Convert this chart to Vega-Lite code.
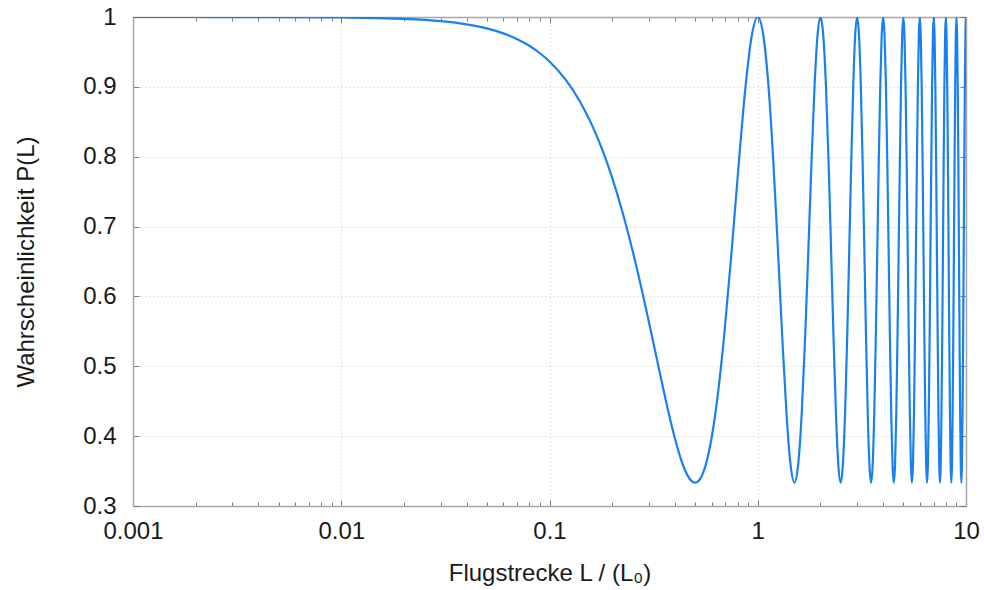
{
  "$schema": "https://vega.github.io/schema/vega-lite/v6.json",
  "width": 833,
  "height": 489,
  "autosize": {"type": "none"},
  "padding": {"left": 133, "top": 17, "right": 18, "bottom": 84},
  "background": "white",
  "config": {
    "view": {"stroke": null},
    "font": "Liberation Sans",
    "axis": {
      "domainColor": "#a6a6a6",
      "domainWidth": 1.5,
      "tickColor": "#808080",
      "tickWidth": 1,
      "labelFlush": false,
      "labelFont": "Liberation Sans",
      "labelFontSize": 24,
      "labelColor": "#1a1a1a",
      "titleFont": "Liberation Sans",
      "titleFontSize": 24,
      "titleFontWeight": "normal",
      "titleColor": "#1a1a1a",
      "gridColor": "#cccccc",
      "gridDash": [1, 3],
      "gridWidth": 1
    }
  },
  "data": {
    "values": [
      {"L": 0.001, "P": 0.99999},
      {"L": 0.002, "P": 0.99997},
      {"L": 0.005, "P": 0.99984},
      {"L": 0.01, "P": 0.99934},
      {"L": 0.015, "P": 0.99852},
      {"L": 0.02, "P": 0.99737},
      {"L": 0.03, "P": 0.9941},
      {"L": 0.04, "P": 0.98953},
      {"L": 0.05, "P": 0.98369},
      {"L": 0.06, "P": 0.97659},
      {"L": 0.07, "P": 0.96828},
      {"L": 0.08, "P": 0.95877},
      {"L": 0.09, "P": 0.94811},
      {"L": 0.1, "P": 0.93634},
      {"L": 0.12, "P": 0.90966},
      {"L": 0.14, "P": 0.87914},
      {"L": 0.16, "P": 0.84528},
      {"L": 0.18, "P": 0.80859},
      {"L": 0.2, "P": 0.76967},
      {"L": 0.22, "P": 0.72913},
      {"L": 0.25, "P": 0.66667},
      {"L": 0.28, "P": 0.60421},
      {"L": 0.3, "P": 0.56366},
      {"L": 0.33, "P": 0.50608},
      {"L": 0.36, "P": 0.45419},
      {"L": 0.4, "P": 0.39699},
      {"L": 0.43, "P": 0.36506},
      {"L": 0.46, "P": 0.34381},
      {"L": 0.48, "P": 0.33596},
      {"L": 0.5, "P": 0.33333},
      {"L": 0.53, "P": 0.33924},
      {"L": 0.5625, "P": 0.35871},
      {"L": 0.625, "P": 0.43097},
      {"L": 0.6875, "P": 0.53911},
      {"L": 0.75, "P": 0.66667},
      {"L": 0.8125, "P": 0.79423},
      {"L": 0.875, "P": 0.90237},
      {"L": 0.9375, "P": 0.97463},
      {"L": 1, "P": 1},
      {"L": 1.0625, "P": 0.97463},
      {"L": 1.125, "P": 0.90237},
      {"L": 1.1875, "P": 0.79423},
      {"L": 1.25, "P": 0.66667},
      {"L": 1.3125, "P": 0.53911},
      {"L": 1.375, "P": 0.43097},
      {"L": 1.4375, "P": 0.35871},
      {"L": 1.5, "P": 0.33333},
      {"L": 1.5625, "P": 0.35871},
      {"L": 1.625, "P": 0.43097},
      {"L": 1.6875, "P": 0.53911},
      {"L": 1.75, "P": 0.66667},
      {"L": 1.8125, "P": 0.79423},
      {"L": 1.875, "P": 0.90237},
      {"L": 1.9375, "P": 0.97463},
      {"L": 2, "P": 1},
      {"L": 2.0625, "P": 0.97463},
      {"L": 2.125, "P": 0.90237},
      {"L": 2.1875, "P": 0.79423},
      {"L": 2.25, "P": 0.66667},
      {"L": 2.3125, "P": 0.53911},
      {"L": 2.375, "P": 0.43097},
      {"L": 2.4375, "P": 0.35871},
      {"L": 2.5, "P": 0.33333},
      {"L": 2.5625, "P": 0.35871},
      {"L": 2.625, "P": 0.43097},
      {"L": 2.6875, "P": 0.53911},
      {"L": 2.75, "P": 0.66667},
      {"L": 2.8125, "P": 0.79423},
      {"L": 2.875, "P": 0.90237},
      {"L": 2.9375, "P": 0.97463},
      {"L": 3, "P": 1},
      {"L": 3.0625, "P": 0.97463},
      {"L": 3.125, "P": 0.90237},
      {"L": 3.1875, "P": 0.79423},
      {"L": 3.25, "P": 0.66667},
      {"L": 3.3125, "P": 0.53911},
      {"L": 3.375, "P": 0.43097},
      {"L": 3.4375, "P": 0.35871},
      {"L": 3.5, "P": 0.33333},
      {"L": 3.5625, "P": 0.35871},
      {"L": 3.625, "P": 0.43097},
      {"L": 3.6875, "P": 0.53911},
      {"L": 3.75, "P": 0.66667},
      {"L": 3.8125, "P": 0.79423},
      {"L": 3.875, "P": 0.90237},
      {"L": 3.9375, "P": 0.97463},
      {"L": 4, "P": 1},
      {"L": 4.0625, "P": 0.97463},
      {"L": 4.125, "P": 0.90237},
      {"L": 4.1875, "P": 0.79423},
      {"L": 4.25, "P": 0.66667},
      {"L": 4.3125, "P": 0.53911},
      {"L": 4.375, "P": 0.43097},
      {"L": 4.4375, "P": 0.35871},
      {"L": 4.5, "P": 0.33333},
      {"L": 4.5625, "P": 0.35871},
      {"L": 4.625, "P": 0.43097},
      {"L": 4.6875, "P": 0.53911},
      {"L": 4.75, "P": 0.66667},
      {"L": 4.8125, "P": 0.79423},
      {"L": 4.875, "P": 0.90237},
      {"L": 4.9375, "P": 0.97463},
      {"L": 5, "P": 1},
      {"L": 5.0625, "P": 0.97463},
      {"L": 5.125, "P": 0.90237},
      {"L": 5.1875, "P": 0.79423},
      {"L": 5.25, "P": 0.66667},
      {"L": 5.3125, "P": 0.53911},
      {"L": 5.375, "P": 0.43097},
      {"L": 5.4375, "P": 0.35871},
      {"L": 5.5, "P": 0.33333},
      {"L": 5.5625, "P": 0.35871},
      {"L": 5.625, "P": 0.43097},
      {"L": 5.6875, "P": 0.53911},
      {"L": 5.75, "P": 0.66667},
      {"L": 5.8125, "P": 0.79423},
      {"L": 5.875, "P": 0.90237},
      {"L": 5.9375, "P": 0.97463},
      {"L": 6, "P": 1},
      {"L": 6.0625, "P": 0.97463},
      {"L": 6.125, "P": 0.90237},
      {"L": 6.1875, "P": 0.79423},
      {"L": 6.25, "P": 0.66667},
      {"L": 6.3125, "P": 0.53911},
      {"L": 6.375, "P": 0.43097},
      {"L": 6.4375, "P": 0.35871},
      {"L": 6.5, "P": 0.33333},
      {"L": 6.5625, "P": 0.35871},
      {"L": 6.625, "P": 0.43097},
      {"L": 6.6875, "P": 0.53911},
      {"L": 6.75, "P": 0.66667},
      {"L": 6.8125, "P": 0.79423},
      {"L": 6.875, "P": 0.90237},
      {"L": 6.9375, "P": 0.97463},
      {"L": 7, "P": 1},
      {"L": 7.0625, "P": 0.97463},
      {"L": 7.125, "P": 0.90237},
      {"L": 7.1875, "P": 0.79423},
      {"L": 7.25, "P": 0.66667},
      {"L": 7.3125, "P": 0.53911},
      {"L": 7.375, "P": 0.43097},
      {"L": 7.4375, "P": 0.35871},
      {"L": 7.5, "P": 0.33333},
      {"L": 7.5625, "P": 0.35871},
      {"L": 7.625, "P": 0.43097},
      {"L": 7.6875, "P": 0.53911},
      {"L": 7.75, "P": 0.66667},
      {"L": 7.8125, "P": 0.79423},
      {"L": 7.875, "P": 0.90237},
      {"L": 7.9375, "P": 0.97463},
      {"L": 8, "P": 1},
      {"L": 8.0625, "P": 0.97463},
      {"L": 8.125, "P": 0.90237},
      {"L": 8.1875, "P": 0.79423},
      {"L": 8.25, "P": 0.66667},
      {"L": 8.3125, "P": 0.53911},
      {"L": 8.375, "P": 0.43097},
      {"L": 8.4375, "P": 0.35871},
      {"L": 8.5, "P": 0.33333},
      {"L": 8.5625, "P": 0.35871},
      {"L": 8.625, "P": 0.43097},
      {"L": 8.6875, "P": 0.53911},
      {"L": 8.75, "P": 0.66667},
      {"L": 8.8125, "P": 0.79423},
      {"L": 8.875, "P": 0.90237},
      {"L": 8.9375, "P": 0.97463},
      {"L": 9, "P": 1},
      {"L": 9.0625, "P": 0.97463},
      {"L": 9.125, "P": 0.90237},
      {"L": 9.1875, "P": 0.79423},
      {"L": 9.25, "P": 0.66667},
      {"L": 9.3125, "P": 0.53911},
      {"L": 9.375, "P": 0.43097},
      {"L": 9.4375, "P": 0.35871},
      {"L": 9.5, "P": 0.33333},
      {"L": 9.5625, "P": 0.35871},
      {"L": 9.625, "P": 0.43097},
      {"L": 9.6875, "P": 0.53911},
      {"L": 9.75, "P": 0.66667},
      {"L": 9.8125, "P": 0.79423},
      {"L": 9.875, "P": 0.90237},
      {"L": 9.9375, "P": 0.97463},
      {"L": 10, "P": 1}
    ]
  },
  "resolve": {"axis": {"x": "independent", "y": "independent"}},
  "layer": [
    {
      "mark": {"type": "line", "color": "#1a80f0", "strokeWidth": 2.2, "interpolate": "monotone", "clip": true},
      "encoding": {
        "x": {
          "field": "L", "type": "quantitative",
          "scale": {"type": "log", "domain": [0.001, 10], "nice": false},
          "axis": {
            "orient": "bottom",
            "title": "Flugstrecke L / (L₀)",
            "titlePadding": 18,
            "values": [0.001,0.002,0.003,0.004,0.005,0.006,0.007,0.008,0.009,0.01,0.02,0.03,0.04,0.05,0.06,0.07,0.08,0.09,0.1,0.2,0.3,0.4,0.5,0.6,0.7,0.8,0.9,1,2,3,4,5,6,7,8,9,10],
            "format": "~g",
            "labelExpr": "indexof([0.001,0.01,0.1,1,10], datum.value) >= 0 ? datum.label : ''",
            "labelPadding": 19,
            "tickSize": {"condition": {"test": "indexof([0.001,0.01,0.1,1,10], datum.value) >= 0", "value": -6}, "value": -4},
            "grid": true,
            "gridOpacity": {"condition": {"test": "indexof([0.01,0.1,1], datum.value) >= 0", "value": 1}, "value": 0}
          }
        },
        "y": {
          "field": "P", "type": "quantitative",
          "scale": {"domain": [0.3, 1], "nice": false, "zero": false},
          "axis": {
            "orient": "left",
            "title": "Wahrscheinlichkeit P(L)",
            "titlePadding": 44,
            "values": [0.3,0.4,0.5,0.6,0.7,0.8,0.9,1],
            "format": ".1~f",
            "labelPadding": 23,
            "tickSize": -6,
            "grid": true,
            "gridOpacity": {"condition": {"test": "datum.value > 0.35 && datum.value < 0.95", "value": 1}, "value": 0}
          }
        }
      }
    },
    {
      "mark": {"type": "line", "strokeOpacity": 0},
      "encoding": {
        "x": {
          "field": "L", "type": "quantitative",
          "scale": {"type": "log", "domain": [0.001, 10], "nice": false},
          "axis": {
            "orient": "top",
            "title": null,
            "labels": false,
            "values": [0.001,0.002,0.003,0.004,0.005,0.006,0.007,0.008,0.009,0.01,0.02,0.03,0.04,0.05,0.06,0.07,0.08,0.09,0.1,0.2,0.3,0.4,0.5,0.6,0.7,0.8,0.9,1,2,3,4,5,6,7,8,9,10],
            "tickSize": {"condition": {"test": "indexof([0.001,0.01,0.1,1,10], datum.value) >= 0", "value": -6}, "value": -4},
            "grid": false
          }
        },
        "y": {
          "field": "P", "type": "quantitative",
          "scale": {"domain": [0.3, 1], "nice": false, "zero": false},
          "axis": {
            "orient": "right",
            "title": null,
            "labels": false,
            "values": [0.3,0.4,0.5,0.6,0.7,0.8,0.9,1],
            "tickSize": -6,
            "grid": false
          }
        }
      }
    }
  ]
}
